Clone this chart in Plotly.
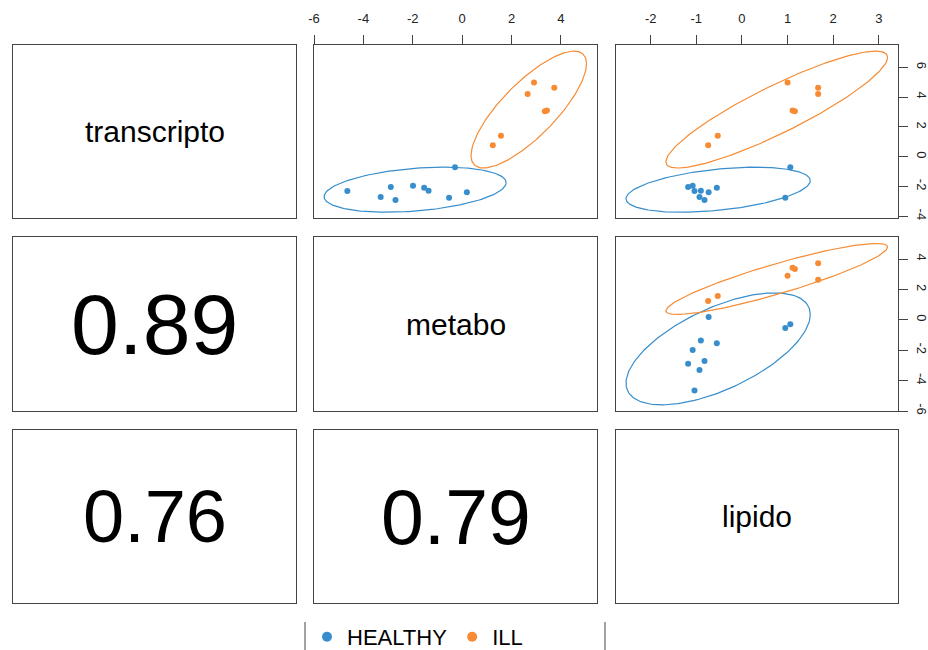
import numpy as np
import plotly.graph_objects as go

# ---------------- data ----------------
blocks = ["transcripto", "metabo", "lipido"]
groups = ["HEALTHY", "ILL"]
group_colors = ["#388ECC", "#F68B33"]

healthy_transcripto = [-2.30, -2.70, -2.03, -2.91, -1.95, -2.08, -2.28, -2.75, -0.71, -2.39]
healthy_metabo = [-4.65, -3.30, -2.89, -2.70, -1.99, -1.54, -1.36, -0.53, -0.29, 0.19]
healthy_lipido = [-1.04, -0.93, -1.18, -0.82, -1.08, -0.55, -0.90, 0.95, 1.06, -0.73]

ill_transcripto = [0.77, 1.41, 4.21, 4.99, 4.63, 3.05, 3.11]
ill_metabo = [1.24, 1.57, 2.65, 2.91, 3.73, 3.35, 3.43]
ill_lipido = [-0.74, -0.53, 1.67, 1.00, 1.67, 1.16, 1.11]

# correlation labels (lower triangle: row, col)
corr_pairs = [(1, 0), (2, 0), (2, 1)]
corr_labels = ["0.89", "0.76", "0.79"]

# axis ranges and tick values per block
axis_ranges = {"transcripto": [-4.11, 7.50], "metabo": [-6.0, 5.46], "lipido": [-2.76, 3.42]}
axis_ticks = {
    "transcripto": [-4, -2, 0, 2, 4, 6],
    "metabo": [-6, -4, -2, 0, 2, 4],
    "lipido": [-2, -1, 0, 1, 2, 3],
}

data = {
    "HEALTHY": {"transcripto": healthy_transcripto, "metabo": healthy_metabo, "lipido": healthy_lipido},
    "ILL": {"transcripto": ill_transcripto, "metabo": ill_metabo, "lipido": ill_lipido},
}

# ---------------- style / layout ----------------
W, H = 928, 650
FONT = "Liberation Sans, Arial, Helvetica, sans-serif"
BOX = "#444444"
col_px = [(13, 296), (314, 597), (616, 898)]
row_px = [(45, 218), (237, 411), (430, 603)]
corr_sizes = {"0.89": 86, "0.76": 74, "0.79": 77}
name_size = 30


def ellipse(x, y, level=0.95, n=200):
    pts = np.column_stack([x, y])
    mu = pts.mean(axis=0)
    S = np.cov(pts.T)
    t = np.sqrt(-2.0 * np.log(1.0 - level))  # sqrt(qchisq(level, 2))
    L = np.linalg.cholesky(S)
    th = np.linspace(0, 2 * np.pi, n)
    circ = np.vstack([np.cos(th), np.sin(th)])
    e = mu[:, None] + t * (L @ circ)
    return e[0], e[1]


fig = go.Figure()
layout = dict(
    width=W, height=H, autosize=False,
    margin=dict(l=0, r=0, t=0, b=0, pad=0, autoexpand=False),
    paper_bgcolor="white", plot_bgcolor="white",
    font=dict(family=FONT, color="black"),
    showlegend=True,
    annotations=[], shapes=[],
)


def ax_name(kind, k):
    return kind + ("" if k == 1 else str(k))


for r in range(3):
    for c in range(3):
        k = r * 3 + c + 1
        xd = [col_px[c][0] / W, col_px[c][1] / W]
        yd = [1 - row_px[r][1] / H, 1 - row_px[r][0] / H]
        xa = dict(domain=xd, anchor="y" + ("" if k == 1 else str(k)), showgrid=False, zeroline=False,
                  showline=True, mirror=True, linecolor=BOX, linewidth=1, fixedrange=True, automargin=False)
        ya = dict(domain=yd, anchor="x" + ("" if k == 1 else str(k)), showgrid=False, zeroline=False,
                  showline=True, mirror=True, linecolor=BOX, linewidth=1, fixedrange=True, automargin=False)
        if r < c:
            xv, yv = blocks[c], blocks[r]
            xa.update(range=axis_ranges[xv], tickvals=axis_ticks[xv],
                      ticktext=[str(v) for v in axis_ticks[xv]])
            ya.update(range=axis_ranges[yv], tickvals=axis_ticks[yv],
                      ticktext=[str(v) for v in axis_ticks[yv]])
            if r == 0:
                xa.update(side="top", ticks="outside", ticklen=9, tickcolor=BOX, showticklabels=True,
                          tickfont=dict(size=13, color="#222"), ticklabelstandoff=7)
            else:
                xa.update(ticks="", showticklabels=False)
            if c == 2:
                ya.update(side="right", ticks="outside", ticklen=9, tickcolor=BOX, showticklabels=True,
                          tickangle=90, tickfont=dict(size=13, color="#222"), ticklabelstandoff=4)
            else:
                ya.update(ticks="", showticklabels=False)
            # points and ellipses
            for g, col in zip(groups, group_colors):
                xs, ys = data[g][xv], data[g][yv]
                ex, ey = ellipse(xs, ys)
                fig.add_trace(go.Scatter(x=ex, y=ey, mode="lines", line=dict(color=col, width=1.2),
                                         xaxis=ax_name("x", k), yaxis=ax_name("y", k),
                                         showlegend=False, hoverinfo="skip"))
                fig.add_trace(go.Scatter(x=xs, y=ys, mode="markers", marker=dict(color=col, size=6),
                                         xaxis=ax_name("x", k), yaxis=ax_name("y", k),
                                         showlegend=False, name=g))
        else:
            xa.update(range=[0, 1], ticks="", showticklabels=False)
            ya.update(range=[0, 1], ticks="", showticklabels=False)
            if r == c:
                txt, size = blocks[r], name_size
            else:
                txt = corr_labels[corr_pairs.index((r, c))]
                size = corr_sizes[txt]
            layout["annotations"].append(dict(
                x=0.5, y=0.5, xref=ax_name("x", k), yref=ax_name("y", k),
                text=txt, showarrow=False, xanchor="center", yanchor="middle",
                font=dict(size=size, family=FONT, color="black")))
        layout[ax_name("xaxis", k)] = xa
        layout[ax_name("yaxis", k)] = ya

# legend entries
for g, col in zip(groups, group_colors):
    fig.add_trace(go.Scatter(x=[None], y=[None], mode="markers", marker=dict(color=col, size=10),
                             name=g, xaxis="x2", yaxis="y2", showlegend=True))

layout["legend"] = dict(orientation="h", x=307 / W, y=1 - 637 / H, xanchor="left", yanchor="middle",
                        font=dict(size=22, family=FONT, color="black"), bgcolor="rgba(0,0,0,0)",
                        itemclick=False, itemdoubleclick=False)

# legend frame side lines
for xp in (305, 605):
    layout["shapes"].append(dict(type="line", xref="paper", yref="paper",
                                 x0=xp / W, x1=xp / W, y0=0, y1=1 - 622 / H,
                                 line=dict(color=BOX, width=1)))

fig.update_layout(**layout)
fig.write_html("out.html")
